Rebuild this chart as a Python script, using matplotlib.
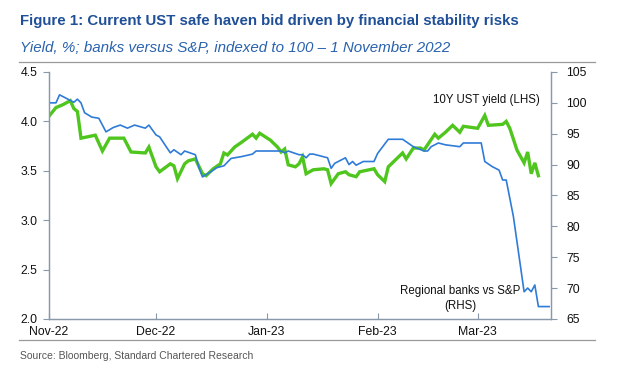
import matplotlib
matplotlib.use("Agg")
import matplotlib.pyplot as plt
import matplotlib.dates as mdates
from matplotlib.lines import Line2D
import pandas as pd

plt.rcParams['font.family'] = ['Liberation Sans', 'DejaVu Sans']

# 10Y UST yield (LHS), %
yield_dates = [
    "2022-11-01", "2022-11-03", "2022-11-05", "2022-11-07", "2022-11-08", "2022-11-09",
    "2022-11-10", "2022-11-14", "2022-11-16", "2022-11-18", "2022-11-22", "2022-11-24",
    "2022-11-28", "2022-11-29", "2022-12-01", "2022-12-02", "2022-12-05", "2022-12-06",
    "2022-12-07", "2022-12-09", "2022-12-10", "2022-12-12", "2022-12-14", "2022-12-15",
    "2022-12-17", "2022-12-19", "2022-12-20", "2022-12-21", "2022-12-23", "2022-12-25",
    "2022-12-28", "2022-12-29", "2022-12-30", "2023-01-02", "2023-01-04", "2023-01-05",
    "2023-01-06", "2023-01-07", "2023-01-09", "2023-01-10", "2023-01-11", "2023-01-12",
    "2023-01-14", "2023-01-17", "2023-01-18", "2023-01-19", "2023-01-21", "2023-01-23",
    "2023-01-24", "2023-01-26", "2023-01-27", "2023-01-31", "2023-02-01", "2023-02-03",
    "2023-02-04", "2023-02-08", "2023-02-09", "2023-02-11", "2023-02-13", "2023-02-14",
    "2023-02-17", "2023-02-18", "2023-02-20", "2023-02-22", "2023-02-24", "2023-02-25",
    "2023-03-01", "2023-03-03", "2023-03-04", "2023-03-08", "2023-03-09", "2023-03-10",
    "2023-03-12", "2023-03-14", "2023-03-15", "2023-03-16", "2023-03-17", "2023-03-18",
]
yield_values = [
    4.05, 4.14, 4.17, 4.21, 4.13, 4.10,
    3.83, 3.86, 3.70, 3.83, 3.83, 3.69,
    3.68, 3.74, 3.54, 3.49, 3.57, 3.55,
    3.42, 3.57, 3.60, 3.62, 3.47, 3.45,
    3.52, 3.57, 3.68, 3.66, 3.74, 3.79,
    3.87, 3.83, 3.88, 3.81, 3.74, 3.69,
    3.72, 3.56, 3.54, 3.57, 3.64, 3.47,
    3.51, 3.52, 3.51, 3.37, 3.47, 3.49,
    3.46, 3.44, 3.49, 3.52, 3.46, 3.39,
    3.54, 3.68, 3.62, 3.73, 3.73, 3.71,
    3.87, 3.83, 3.89, 3.96, 3.89, 3.95,
    3.93, 4.06, 3.96, 3.97, 4.00, 3.93,
    3.71, 3.58, 3.69, 3.47, 3.58, 3.45,
]

# Regional banks vs S&P (RHS), indexed to 100 on 1 Nov 2022
banks_dates = [
    "2022-11-01", "2022-11-03", "2022-11-04", "2022-11-06", "2022-11-08", "2022-11-09",
    "2022-11-10", "2022-11-11", "2022-11-13", "2022-11-15", "2022-11-17", "2022-11-19",
    "2022-11-21", "2022-11-23", "2022-11-25", "2022-11-28", "2022-11-29", "2022-12-01",
    "2022-12-02", "2022-12-05", "2022-12-06", "2022-12-08", "2022-12-09", "2022-12-12",
    "2022-12-13", "2022-12-14", "2022-12-17", "2022-12-18", "2022-12-20", "2022-12-22",
    "2022-12-25", "2022-12-28", "2022-12-29", "2023-01-05", "2023-01-06", "2023-01-07",
    "2023-01-10", "2023-01-11", "2023-01-12", "2023-01-13", "2023-01-14", "2023-01-18",
    "2023-01-19", "2023-01-20", "2023-01-23", "2023-01-24", "2023-01-25", "2023-01-26",
    "2023-01-28", "2023-01-31", "2023-02-01", "2023-02-04", "2023-02-08", "2023-02-11",
    "2023-02-14", "2023-02-15", "2023-02-16", "2023-02-18", "2023-02-20", "2023-02-24",
    "2023-02-25", "2023-03-02", "2023-03-03", "2023-03-05", "2023-03-07", "2023-03-08",
    "2023-03-09", "2023-03-11", "2023-03-14", "2023-03-15", "2023-03-16", "2023-03-17",
    "2023-03-18", "2023-03-21",
]
banks_values = [
    100.0, 100.0, 101.3, 100.7, 100.1, 100.6,
    100.0, 98.4, 97.7, 97.5, 95.3, 96.0,
    96.4, 95.9, 96.4, 95.9, 96.4, 94.8,
    94.5, 91.9, 92.4, 91.6, 92.2, 91.6,
    89.5, 88.0, 89.1, 89.5, 89.8, 91.0,
    91.3, 91.7, 92.2, 92.2, 91.9, 92.2,
    91.6, 91.6, 91.1, 91.7, 91.7, 91.1,
    89.4, 90.2, 91.1, 90.0, 90.5, 89.9,
    90.5, 90.5, 91.8, 94.1, 94.1, 92.9,
    92.2, 92.2, 92.9, 93.5, 93.2, 92.9,
    93.5, 93.5, 90.5, 89.7, 89.1, 87.5,
    87.5, 81.6, 69.4, 70.0, 69.4, 70.5,
    67.0, 67.0,
]

month_ticks = ["2022-11-01", "2022-12-01", "2023-01-01", "2023-02-01", "2023-03-01"]
left_ticks = [2.0, 2.5, 3.0, 3.5, 4.0, 4.5]
right_ticks = [65, 70, 75, 80, 85, 90, 95, 100, 105]

title = "Figure 1: Current UST safe haven bid driven by financial stability risks"
subtitle = "Yield, %; banks versus S&P, indexed to 100 \u2013 1 November 2022"
source = "Source: Bloomberg, Standard Chartered Research"

green = "#4FC61E"
blue = "#2F7BD8"
spine_col = "#8A99AA"
title_col = "#1F4F96"

fig = plt.figure(figsize=(6.18, 3.73), dpi=100)
ax = fig.add_axes([0.079, 0.145, 0.813, 0.662])
ax2 = ax.twinx()

ax.plot(pd.to_datetime(yield_dates), yield_values, color=green, lw=2.4, solid_joinstyle="miter")
ax2.plot(pd.to_datetime(banks_dates), banks_values, color=blue, lw=1.2)

ax.set_xlim(pd.Timestamp("2022-11-01"), pd.Timestamp("2022-11-01") + pd.Timedelta(days=140.6))
ax.set_ylim(2.0, 4.5)
ax2.set_ylim(65, 105)

ax.set_yticks(left_ticks)
ax.set_yticklabels([f"{v:.1f}" for v in left_ticks])
ax2.set_yticks(right_ticks)
ax.set_xticks(pd.to_datetime(month_ticks))
ax.xaxis.set_major_formatter(mdates.DateFormatter("%b-%y"))

for a in (ax, ax2):
    a.spines["top"].set_visible(False)
    for s in ("left", "right", "bottom"):
        a.spines[s].set_color(spine_col)
        a.spines[s].set_linewidth(0.9)
    a.tick_params(colors=spine_col, labelcolor="#111111", labelsize=8.8, width=0.8, length=4)
ax.tick_params(axis="x", direction="in", pad=5)
ax.tick_params(axis="y", direction="out", pad=4)
ax2.tick_params(axis="y", direction="out", pad=7)

ax.text(0.978, 0.887, "10Y UST yield (LHS)", transform=ax.transAxes, ha="right", va="center",
        fontsize=8.3, color="#111111")
ax.text(0.819, 0.083, "Regional banks vs S&P\n(RHS)", transform=ax.transAxes, ha="center",
        va="center", fontsize=8.3, color="#111111", linespacing=1.3)

fig.text(0.032, 0.944, title, fontsize=10.8, fontweight="bold", color=title_col, va="center")
fig.text(0.032, 0.870, subtitle, fontsize=10.9, style="italic", color="#2A62AE", va="center")
fig.text(0.032, 0.046, source, fontsize=7.5, color="#555555", va="center")

fig.add_artist(Line2D([0.03, 0.963], [0.834, 0.834], color="#999999", lw=0.9))
fig.add_artist(Line2D([0.03, 0.963], [0.088, 0.088], color="#999999", lw=0.9))

fig.savefig("out.png", dpi=100)
